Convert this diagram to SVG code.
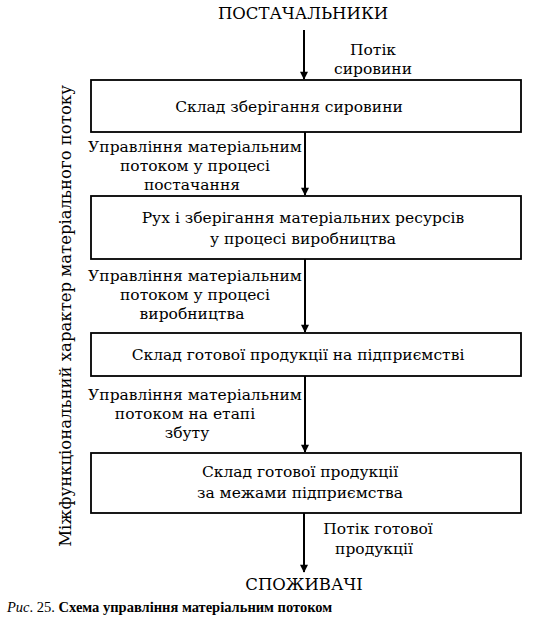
<svg xmlns="http://www.w3.org/2000/svg" width="538" height="634" viewBox="0 0 538 634">
<defs>
<style>
text{font-family:"DejaVu Serif","Liberation Serif",serif;fill:#000}
.t{font-size:16.5px}
.b{font-size:15.5px;text-anchor:middle}
.l{font-size:15.5px;text-anchor:middle}
.cap{font-family:"Liberation Serif","Times New Roman",serif;font-size:14.5px}
.box{fill:#fff;stroke:#000;stroke-width:1.8}
.c{stroke:#000;stroke-width:2;fill:none}
</style>
<marker id="ah" viewBox="0 0 10 10" refX="9" refY="5" markerWidth="5" markerHeight="4" orient="auto" markerUnits="strokeWidth">
<path d="M0,0 L10,5 L0,10 z" fill="#000"/>
</marker>
</defs>
<rect width="538" height="634" fill="#fff"/>
<g id="suppliers"><text class="t" x="303" y="19" text-anchor="middle">ПОСТАЧАЛЬНИКИ</text></g>
<g id="box1"><rect class="box" x="91" y="80" width="430" height="52"/><text class="b" x="289" y="112" font-size="15px">Склад зберігання сировини</text></g>
<g id="box2"><rect class="box" x="91" y="196" width="430" height="63"/><text class="b" x="303" y="223">Рух і зберігання матеріальних ресурсів</text><text class="b" x="303" y="244">у процесі виробництва</text></g>
<g id="box3"><rect class="box" x="91" y="333" width="430" height="43"/><text class="b" x="298" y="360">Склад готової продукції на підприємстві</text></g>
<g id="box4"><rect class="box" x="91" y="453" width="430" height="60"/><text class="b" x="300" y="477">Склад готової продукції</text><text class="b" x="300" y="498">за межами підприємства</text></g>
<g id="consumers"><text class="t" x="304" y="590" text-anchor="middle">СПОЖИВАЧІ</text></g>
<g id="side"><text class="t" transform="translate(71,316) rotate(-90)" text-anchor="middle">Міжфункціональний характер матеріального потоку</text></g>
<g id="connectors">
<line class="c" x1="304" y1="30" x2="304" y2="79" marker-end="url(#ah)"/>
<line class="c" x1="305" y1="132" x2="305" y2="195" marker-end="url(#ah)"/>
<line class="c" x1="305" y1="259" x2="305" y2="332" marker-end="url(#ah)"/>
<line class="c" x1="305" y1="376" x2="305" y2="452" marker-end="url(#ah)"/>
<line class="c" x1="304" y1="513" x2="304" y2="572" marker-end="url(#ah)"/>
</g>
<g id="labels">
<text class="l" x="373" y="55">Потік</text>
<text class="l" x="373" y="74">сировини</text>
<text class="l" x="195" y="152">Управління матеріальним</text>
<text class="l" x="195" y="171">потоком у процесі</text>
<text class="l" x="192" y="190">постачання</text>
<text class="l" x="195" y="281">Управління матеріальним</text>
<text class="l" x="195" y="300">потоком у процесі</text>
<text class="l" x="192" y="319">виробництва</text>
<text class="l" x="195" y="400">Управління матеріальним</text>
<text class="l" x="185" y="419">потоком на етапі</text>
<text class="l" x="187" y="438">збуту</text>
<text class="l" x="378" y="534">Потік готової</text>
<text class="l" x="374" y="554">продукції</text>
</g>
<g id="caption"><text class="cap" x="7" y="612"><tspan font-style="italic">Рис</tspan>. 25. <tspan font-weight="bold">Схема управління матеріальним потоком</tspan></text></g>
</svg>
